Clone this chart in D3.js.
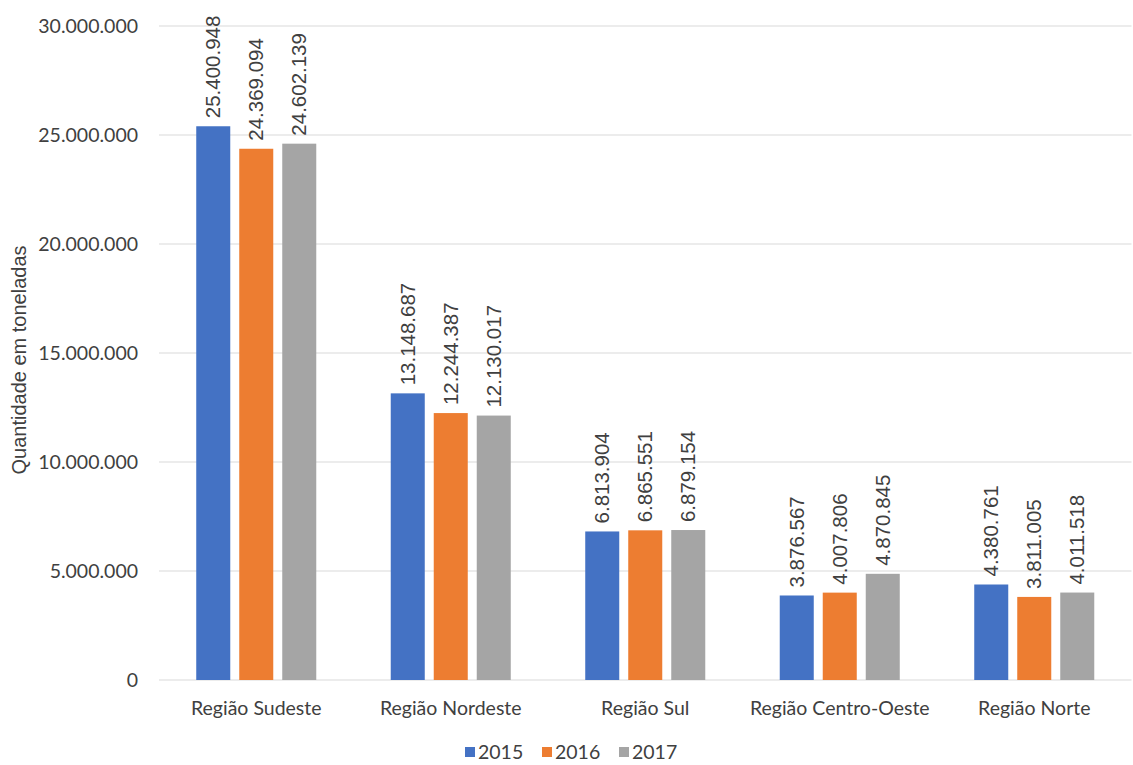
<!DOCTYPE html>
<html>
<head>
<meta charset="utf-8">
<script src="https://cdn.jsdelivr.net/npm/d3@7"></script>
<style>
  html, body { margin: 0; padding: 0; background: #ffffff; }
  svg { display: block; }
</style>
</head>
<body>
<svg id="chart" width="1133" height="765"></svg>
<script>
// Regions and yearly quantities (tonnes)
const regions = ["Região Sudeste", "Região Nordeste", "Região Sul", "Região Centro-Oeste", "Região Norte"];
const years = ["2015", "2016", "2017"];
const values2015 = [25400948, 13148687, 6813904, 3876567, 4380761];
const values2016 = [24369094, 12244387, 6865551, 4007806, 3811005];
const values2017 = [24602139, 12130017, 6879154, 4870845, 4011518];
const yTicks = [0, 5000000, 10000000, 15000000, 20000000, 25000000, 30000000];
const yTitle = "Quantidade em toneladas";

const seriesByYear = { "2015": values2015, "2016": values2016, "2017": values2017 };
const colors = { "2015": "#4472C4", "2016": "#ED7D31", "2017": "#A5A5A5" };

const W = 1133, H = 765;
const plot = { left: 159, right: 1131.5, top: 26, bottom: 680 };
const textColor = "#404040";
const catFont = "Lato, 'Open Sans', sans-serif";
const numFont = "'Liberation Sans', Arial, sans-serif";

const svg = d3.select("#chart");

const x = d3.scaleBand().domain(regions).range([plot.left, plot.right]).paddingInner(0).paddingOuter(0);
const xInner = d3.scaleBand().domain(years).range([0, x.bandwidth()]).paddingInner(0.209).paddingOuter(0.866);
const y = d3.scaleLinear().domain([0, 30000000]).range([plot.bottom, plot.top]);

// Portuguese number format: dot as thousands separator
const ptFormat = d3.formatLocale({ decimal: ",", thousands: ".", grouping: [3], currency: ["R$", ""] }).format(",d");

// Horizontal gridlines
svg.append("g").selectAll("line").data(yTicks).join("line")
  .attr("x1", plot.left).attr("x2", plot.right)
  .attr("y1", d => y(d)).attr("y2", d => y(d))
  .attr("stroke", "#D9D9D9").attr("stroke-width", 1);

// Y axis tick labels
const yAxis = d3.axisLeft(y).tickValues(yTicks).tickFormat(ptFormat).tickSize(0).tickPadding(21);
const yAxisG = svg.append("g").attr("transform", `translate(${plot.left},0)`).call(yAxis);
yAxisG.select(".domain").remove();
yAxisG.selectAll("text")
  .attr("font-family", catFont).attr("font-size", 19.5).attr("fill", textColor);

// X axis category labels
const xAxis = d3.axisBottom(x).tickSize(0).tickPadding(21);
const xAxisG = svg.append("g").attr("transform", `translate(0,${plot.bottom})`).call(xAxis);
xAxisG.select(".domain").remove();
xAxisG.selectAll("text")
  .attr("font-family", catFont).attr("font-size", 19.5).attr("fill", textColor)
  .attr("dy", "0.71em");

// Bars and rotated value labels
const rows = regions.map((r, i) => ({ region: r, items: years.map(yr => ({ year: yr, value: seriesByYear[yr][i] })) }));
const groups = svg.append("g").selectAll("g").data(rows).join("g")
  .attr("transform", d => `translate(${x(d.region)},0)`);

groups.selectAll("rect").data(d => d.items).join("rect")
  .attr("x", d => xInner(d.year))
  .attr("y", d => y(d.value))
  .attr("width", xInner.bandwidth())
  .attr("height", d => y(0) - y(d.value))
  .attr("fill", d => colors[d.year]);

groups.selectAll("text").data(d => d.items).join("text")
  .attr("transform", d => `translate(${xInner(d.year) + xInner.bandwidth() / 2},${y(d.value) - 8}) rotate(-90)`)
  .attr("dy", "0.35em")
  .attr("text-anchor", "start")
  .attr("font-family", numFont).attr("font-size", 20.5)
  .attr("fill", textColor)
  .text(d => ptFormat(d.value));

// Y axis title
svg.append("text")
  .attr("transform", `translate(19,${(plot.top + plot.bottom) / 2 + 7}) rotate(-90)`)
  .attr("text-anchor", "middle").attr("dy", "0.35em")
  .attr("font-family", numFont).attr("font-size", 20).attr("fill", textColor)
  .text(yTitle);

// Legend
const legendItemWidth = 77;
const legendStart = 465;
const legend = svg.append("g").attr("transform", `translate(${legendStart},752)`);
const li = legend.selectAll("g").data(years).join("g")
  .attr("transform", (d, i) => `translate(${i * legendItemWidth},0)`);
li.append("rect").attr("x", 0).attr("y", -5).attr("width", 10).attr("height", 10)
  .attr("fill", d => colors[d]);
li.append("text").attr("x", 13).attr("y", 0).attr("dy", "0.35em")
  .attr("font-family", catFont).attr("font-size", 19.5).attr("fill", textColor)
  .text(d => d);
</script>
</body>
</html>
